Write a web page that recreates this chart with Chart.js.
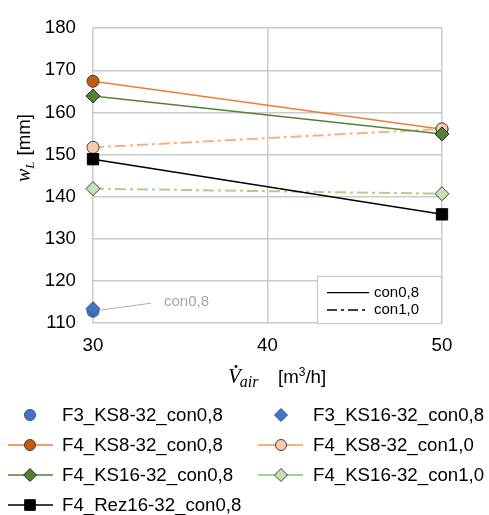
<!DOCTYPE html>
<html>
<head>
<meta charset="utf-8">
<script src="https://cdn.jsdelivr.net/npm/chart.js@4/dist/chart.umd.min.js"></script>
<style>
html,body{margin:0;padding:0;background:#fff;}
#wrap{position:relative;width:489px;height:515px;}
canvas{display:block;}
</style>
</head>
<body>
<div id="wrap"><canvas id="c" width="489" height="515"></canvas></div>
<script>
// ---- data ----
const airFlow = [30, 50];                 // m3/h
const yTicks = [110, 120, 130, 140, 150, 160, 170, 180];
const F3_KS8_32_con08   = [112.8, null];
const F3_KS16_32_con08  = [113.4, null];
const F4_KS8_32_con08   = [167.4, 156.0];
const F4_KS8_32_con10   = [151.7, 156.1];
const F4_KS16_32_con08  = [163.9, 154.9];
const F4_KS16_32_con10  = [141.9, 140.7];
const F4_Rez16_32_con08 = [148.9, 135.8];

const FONT = "'Liberation Sans', Arial, sans-serif";
const toPts = arr => airFlow.map((x, i) => ({x: x, y: arr[i]})).filter(p => p.y !== null);
const DASHDOT = [11, 4, 3, 4];

const datasets = [
  {label:'F3_KS8-32_con0,8', data: toPts(F3_KS8_32_con08), showLine:false, clip:false,
   pointStyle:'circle', pointRadius:6, backgroundColor:'#4472c4', borderColor:'#2f528f', pointBorderWidth:1, order:2},
  {label:'F3_KS16-32_con0,8', data: toPts(F3_KS16_32_con08), showLine:false, clip:false,
   pointStyle:'rectRot', pointRadius:7, backgroundColor:'#4472c4', borderColor:'#2f528f', pointBorderWidth:1, order:1},
  {label:'F4_KS8-32_con0,8', data: toPts(F4_KS8_32_con08), showLine:true, clip:false, borderColor:'#ed7d31', borderWidth:1.5,
   pointStyle:'circle', pointRadius:6, pointBackgroundColor:'#c55a11', pointBorderColor:'#404040', pointBorderWidth:1, order:7},
  {label:'F4_KS8-32_con1,0', data: toPts(F4_KS8_32_con10), showLine:true, clip:false, borderColor:'#f4b183', borderWidth:2, borderDash:DASHDOT,
   pointStyle:'circle', pointRadius:6, pointBackgroundColor:'#f8cbad', pointBorderColor:'#404040', pointBorderWidth:1, order:6},
  {label:'F4_KS16-32_con0,8', data: toPts(F4_KS16_32_con08), showLine:true, clip:false, borderColor:'#548235', borderWidth:1.5,
   pointStyle:'rectRot', pointRadius:7, pointBackgroundColor:'#548235', pointBorderColor:'#262626', pointBorderWidth:1, order:3},
  {label:'F4_KS16-32_con1,0', data: toPts(F4_KS16_32_con10), showLine:true, clip:false, borderColor:'#a9d18e', borderWidth:2, borderDash:DASHDOT,
   pointStyle:'rectRot', pointRadius:7, pointBackgroundColor:'#c5e0b4', pointBorderColor:'#404040', pointBorderWidth:1, order:5},
  {label:'F4_Rez16-32_con0,8', data: toPts(F4_Rez16_32_con08), showLine:true, clip:false, borderColor:'#000000', borderWidth:1.5,
   pointStyle:'rect', pointRadius:8, pointBackgroundColor:'#000000', pointBorderColor:'#000000', pointBorderWidth:1, order:4}
];

const decorPlugin = {
  id:'decor',
  afterDatasetsDraw(chart){
    const ctx = chart.ctx, xs = chart.scales.x, ys = chart.scales.y;
    ctx.save();
    // annotation for F3 points
    const px = xs.getPixelForValue(airFlow[0]);
    const py = ys.getPixelForValue(F3_KS8_32_con08[0]);
    ctx.strokeStyle = '#b0b0b0'; ctx.lineWidth = 1;
    ctx.beginPath(); ctx.moveTo(px + 6, py - 1); ctx.lineTo(px + 58, py - 8); ctx.stroke();
    ctx.fillStyle = '#a6a6a6'; ctx.font = '15px ' + FONT;
    ctx.textBaseline = 'middle'; ctx.textAlign = 'left';
    ctx.fillText('con0,8', px + 71, py - 9);

    // inner legend box
    const bx = 317, by = 276, bw = xs.right - 317, bh = ys.bottom - 276;
    ctx.fillStyle = '#ffffff'; ctx.fillRect(bx, by, bw, bh);
    ctx.strokeStyle = '#c8c8c8'; ctx.lineWidth = 1.2; ctx.strokeRect(bx + 0.5, by + 0.5, bw - 1, bh);
    ctx.strokeStyle = '#000'; ctx.lineWidth = 1.3;
    ctx.beginPath(); ctx.moveTo(327, 292.7); ctx.lineTo(369, 292.7); ctx.stroke();
    ctx.setLineDash([10, 4, 3, 4]);
    ctx.beginPath(); ctx.moveTo(327, 310); ctx.lineTo(369, 310); ctx.stroke();
    ctx.setLineDash([]);
    ctx.fillStyle = '#000'; ctx.font = '15px ' + FONT;
    ctx.fillText('con0,8', 374, 292.5);
    ctx.fillText('con1,0', 374, 309.5);
    ctx.restore();
  },
  afterDraw(chart){
    const ctx = chart.ctx;
    ctx.save();
    // y axis title (rotated)
    ctx.translate(23, 146);
    ctx.rotate(-Math.PI / 2);
    ctx.fillStyle = '#000';
    ctx.textBaseline = 'alphabetic';
    ctx.textAlign = 'left';
    let x0 = -36;
    ctx.font = 'italic 20px "Liberation Serif", serif';
    ctx.fillText('w', x0, 7);
    let wW = ctx.measureText('w').width;
    ctx.font = 'italic 13px "Liberation Serif", serif';
    ctx.fillText('L', x0 + wW, 11);
    let lW = ctx.measureText('L').width;
    ctx.font = '18.67px ' + FONT;
    ctx.fillText('[mm]', x0 + wW + lW + 6, 7);
    ctx.restore();

    // x axis title
    ctx.save();
    ctx.fillStyle = '#000';
    ctx.textBaseline = 'alphabetic'; ctx.textAlign = 'left';
    ctx.font = 'italic 21px "Liberation Serif", serif';
    ctx.fillText('V', 228, 383);
    const vW = ctx.measureText('V').width;
    ctx.beginPath(); ctx.arc(236, 366.5, 1.4, 0, Math.PI * 2); ctx.fill();
    ctx.font = 'italic 16px "Liberation Serif", serif';
    ctx.fillText('air', 228 + vW - 1, 387);
    ctx.font = '18.67px ' + FONT;
    ctx.fillText('[m', 278, 383);
    let w1 = ctx.measureText('[m').width;
    ctx.font = '12px ' + FONT;
    ctx.fillText('3', 278 + w1, 376);
    let w2 = ctx.measureText('3').width;
    ctx.font = '18.67px ' + FONT;
    ctx.fillText('/h]', 278 + w1 + w2, 383);
    ctx.restore();

    // bottom legend
    ctx.save();
    const cols = [{lx0: 8, lx1: 53, mx: 30, tx: 62}, {lx0: 258, lx1: 303, mx: 281, tx: 313}];
    const rows = [415, 445, 475, 505];
    const layout = [[0,0],[0,1],[1,0],[1,1],[2,0],[2,1],[3,0]];
    chart.data.datasets.forEach((ds, i) => {
      const [r, c] = layout[i];
      const col = cols[c], y = rows[r];
      if (ds.showLine) {
        ctx.strokeStyle = ds.borderColor; ctx.lineWidth = ds.borderWidth;
        ctx.beginPath(); ctx.moveTo(col.lx0, y); ctx.lineTo(col.lx1, y); ctx.stroke();
      }
      const fill = ds.pointBackgroundColor || ds.backgroundColor;
      const stroke = ds.pointBorderColor || ds.borderColor;
      ctx.fillStyle = fill; ctx.strokeStyle = stroke; ctx.lineWidth = 1;
      let rad = ds.pointStyle === 'rect' ? 7.5 : (ds.pointStyle === 'rectRot' ? 6.5 : 5.5);
      Chart.helpers.drawPoint(ctx, {pointStyle: ds.pointStyle, radius: rad, rotation: 0, borderWidth: 1}, col.mx, y);
      ctx.fillStyle = '#000'; ctx.font = '18.67px ' + FONT;
      ctx.textAlign = 'left'; ctx.textBaseline = 'middle';
      ctx.fillText(ds.label, col.tx, y + 1);
    });
    ctx.restore();
  }
};

new Chart(document.getElementById('c'), {
  type: 'line',
  data: { datasets: datasets },
  options: {
    responsive: false,
    animation: false,
    layout: { padding: { left: 0, right: 47, top: 17, bottom: 152 } },
    plugins: { legend: { display: false }, tooltip: { enabled: false } },
    scales: {
      x: {
        type: 'linear', min: 30, max: 50,
        afterBuildTicks(s){ s.ticks = airFlow.concat([40]).sort((a,b)=>a-b).map(v => ({value: v})); },
        afterFit(s){ s.height = 40; },
        grid: { color: '#cacaca', lineWidth: 1.5, drawTicks: false },
        border: { display: false },
        ticks: { font: { family: FONT, size: 18.67 }, color: '#000', padding: 12, maxRotation: 0 }
      },
      y: {
        type: 'linear', min: 110, max: 180,
        afterBuildTicks(s){
          const t = [];
          for (let v = yTicks[0]; v <= yTicks[yTicks.length - 1]; v += 5) t.push({value: v});
          s.ticks = t;
        },
        afterFit(s){ s.width = 93; },
        grid: {
          drawTicks: false,
          color: ctx => (ctx.tick && yTicks.includes(ctx.tick.value)) ? '#cacaca' : '#efefef',
          lineWidth: ctx => (ctx.tick && yTicks.includes(ctx.tick.value)) ? 1.5 : 1
        },
        border: { display: false },
        ticks: {
          font: { family: FONT, size: 18.67 }, color: '#000', padding: 17,
          callback: v => yTicks.includes(v) ? String(v) : ''
        }
      }
    }
  },
  plugins: [decorPlugin]
});
</script>
</body>
</html>
